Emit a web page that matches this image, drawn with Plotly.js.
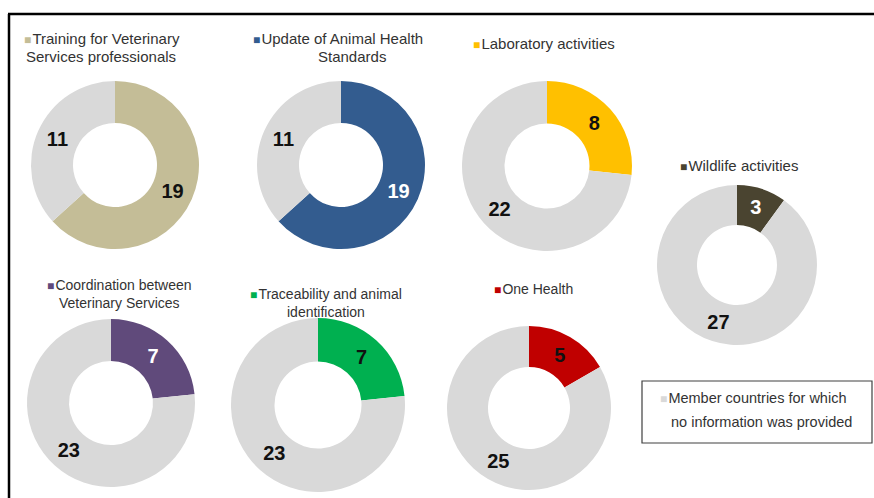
<!DOCTYPE html>
<html>
<head>
<meta charset="utf-8">
<script src="https://cdn.plot.ly/plotly-3.0.1.min.js"></script>
<style>html,body{margin:0;padding:0;background:#fff;}#chart{width:874px;height:498px;}</style>
</head>
<body>
<div id="chart"></div>
<script>
// ---- data ----
const categories = [
  "Training for Veterinary Services professionals",
  "Update of Animal Health Standards",
  "Laboratory activities",
  "Wildlife activities",
  "Coordination between Veterinary Services",
  "Traceability and animal identification",
  "One Health"
];
const provided    = [19, 19, 8, 3, 7, 7, 5];
const notProvided = [11, 11, 22, 27, 23, 23, 25];
const greyLabel = "Member countries for which no information was provided";

// ---- styles / layout ----
const colors = ["#C4BD97", "#335C8F", "#FFC000", "#4A4430", "#604A7B", "#00B050", "#C00000"];
const grey = "#D9D9D9";
const valueTextColors = ["#111", "#fff", "#111", "#fff", "#fff", "#111", "#111"];
const greyTextColor = "#111";
// pixel centres and radii of each donut
const centers = [[115,165,84],[341,165,84],[547,166,85],[737,265,80],[111,403,84],[318,405,87],[529,408,82]];
// label blocks: [text lines], centre x per block, centre y per block, font size
const labelBlocks = [
  [[["Training for Veterinary"], 102, 39], [["Services professionals"], 101, 57]],
  [[["Update of Animal Health"], 338, 39], [["Standards"], 352, 57]],
  [[["Laboratory activities"], 544, 44]],
  [[["Wildlife activities"], 739, 165]],
  [[["Coordination between", "Veterinary Services"], 119, 293.5]],
  [[["Traceability and animal", "identification"], 326, 302.5]],
  [[["One Health"], 533, 289]]
];
const labelSizes = [15, 15, 15, 15, 14, 14, 14];

const W = 874, H = 498;
const px = x => x / W;
const py = y => 1 - y / H;
const FONT = "Liberation Sans, Arial, sans-serif";
const marker = c => '<span style="color:' + c + ';font-size:12px">■</span><span style="font-size:4px"> </span>';

const traces = categories.map((c, i) => {
  const [cx, cy, r] = centers[i];
  return {
    type: "pie",
    values: [provided[i], notProvided[i]],
    labels: [c, greyLabel],
    marker: {colors: [colors[i], grey], line: {width: 0}},
    hole: 0.5,
    sort: false,
    direction: "clockwise",
    rotation: 0,
    textinfo: "value",
    textposition: "inside",
    insidetextorientation: "horizontal",
    textfont: {family: FONT, size: 20, weight: "bold", color: [valueTextColors[i], greyTextColor]},
    domain: {x: [px(cx - r), px(cx + r)], y: [py(cy + r), py(cy - r)]},
    hoverinfo: "none",
    showlegend: false
  };
});

const annotations = [];
labelBlocks.forEach((blocks, i) => {
  blocks.forEach((b, j) => {
    const [lines, x, y] = b;
    annotations.push({
      xref: "paper", yref: "paper", x: px(x), y: py(y),
      xanchor: "center", yanchor: "middle", align: "center", showarrow: false,
      text: (j === 0 ? marker(colors[i]) : "") + lines.join("<br>"),
      font: {family: FONT, size: labelSizes[i], color: "#333"}
    });
  });
});
// grey legend box text
annotations.push({
  xref: "paper", yref: "paper", x: px(658), y: py(398), xanchor: "left", yanchor: "middle",
  showarrow: false, font: {family: FONT, size: 14.5, color: "#333"},
  text: marker(grey) + "Member countries for which"
});
annotations.push({
  xref: "paper", yref: "paper", x: px(669), y: py(422), xanchor: "left", yanchor: "middle",
  showarrow: false, font: {family: FONT, size: 14.5, color: "#333"},
  text: "no information was provided"
});

const shapes = [
  {type: "line", xref: "paper", yref: "paper", x0: px(8), x1: 1, y0: py(14), y1: py(14), line: {color: "#000", width: 2.5}},
  {type: "line", xref: "paper", yref: "paper", x0: px(9), x1: px(9), y0: py(14), y1: 0, line: {color: "#000", width: 2.5}},
  {type: "rect", xref: "paper", yref: "paper", x0: px(642), x1: px(872), y0: py(381), y1: py(443), line: {color: "#404040", width: 1.2}, fillcolor: "rgba(0,0,0,0)"}
];

const layout = {
  width: W, height: H,
  margin: {l: 0, r: 0, t: 0, b: 0},
  paper_bgcolor: "#fff",
  showlegend: false,
  annotations: annotations,
  shapes: shapes
};

Plotly.newPlot("chart", traces, layout, {displayModeBar: false, staticPlot: true});
</script>
</body>
</html>
